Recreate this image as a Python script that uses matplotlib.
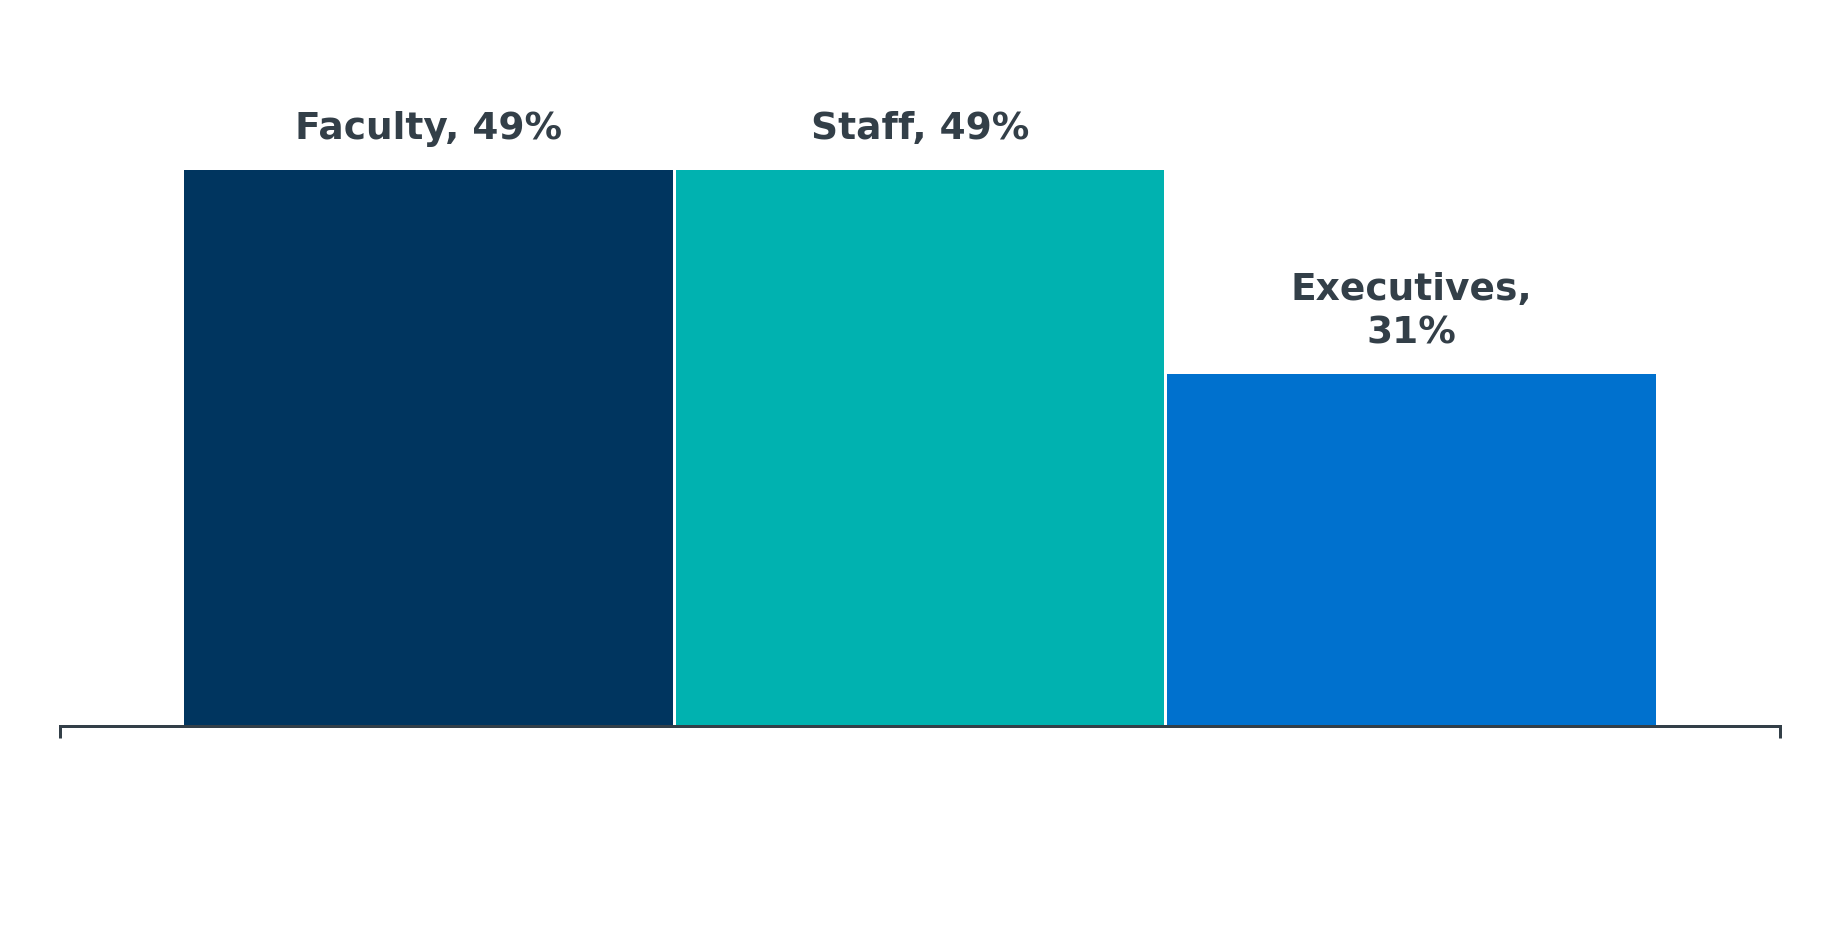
import matplotlib
matplotlib.use('Agg')
import matplotlib.pyplot as plt

# data
categories = ['Faculty', 'Staff', 'Executives']
values = [49, 49, 31]
bar_labels = ['Faculty, 49%', 'Staff, 49%', 'Executives,\n31%']
colors = ['#00355F', '#00B2B0', '#0071CE']

text_color = '#333F48'

def main():
    fig = plt.figure(figsize=(18.4, 9.47), dpi=100)
    ax = fig.add_axes([60 / 1840, 221 / 947, 1720 / 1840, 681 / 947])

    x = list(range(len(categories)))
    ax.bar(x, values, width=0.994, color=colors, linewidth=0)

    for xi, v, lab in zip(x, values, bar_labels):
        ax.annotate(lab, xy=(xi, v), xytext=(0, 22), textcoords='offset points',
                    ha='center', va='baseline', fontsize=27, fontweight='bold',
                    color=text_color, linespacing=1.27)

    ax.set_xlim(-0.75, 2.75)
    ax.set_ylim(0, 60)

    # only the baseline with small end ticks
    for side in ['top', 'right', 'left']:
        ax.spines[side].set_visible(False)
    ax.spines['bottom'].set_color(text_color)
    ax.spines['bottom'].set_linewidth(2.16)
    ax.set_yticks([])
    ax.set_xticks([-0.75, 2.75])
    ax.set_xticklabels(['', ''])
    ax.tick_params(axis='x', direction='out', length=8.6, width=2.16, color=text_color)

    fig.savefig('out.png', dpi=100, facecolor='white')
    plt.close(fig)

if __name__ == '__main__':
    main()
